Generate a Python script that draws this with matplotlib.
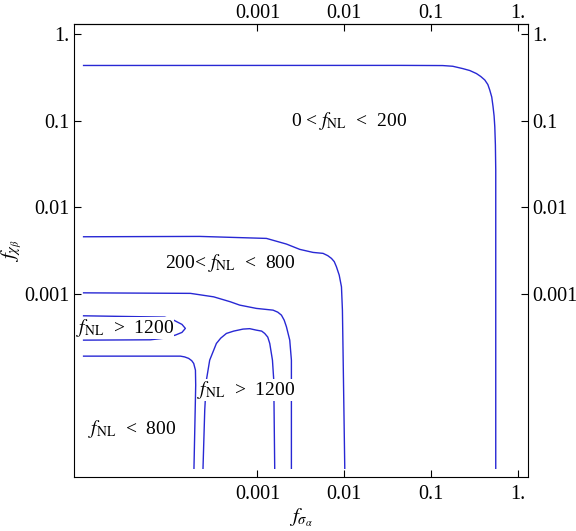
import numpy as np
import matplotlib.pyplot as plt
from matplotlib.ticker import FixedLocator, FixedFormatter, NullLocator

plt.rcParams['font.family'] = 'serif'
plt.rcParams['font.serif'] = ['Liberation Serif', 'DejaVu Serif']
plt.rcParams['mathtext.fontset'] = 'stix'

# contour lines, given as log10(f_sigma_a), log10(f_chi_b)
outer_lx = [-5.0, -1.35, -0.868, -0.753, -0.637, -0.557, -0.480, -0.430, -0.384, -0.349,
            -0.327, -0.304, -0.289, -0.277, -0.269, -0.262, -0.258, -0.258]
outer_ly = [-0.367, -0.366, -0.368, -0.376, -0.403, -0.425, -0.460, -0.494, -0.534, -0.586,
            -0.649, -0.730, -0.841, -0.948, -1.071, -1.282, -1.570, -5.0]

mid_lx = [-5.0, -3.664, -2.896, -2.666, -2.513, -2.360, -2.245, -2.191, -2.148, -2.116,
          -2.091, -2.059, -2.033, -2.022, -2.015, -1.995]
mid_ly = [-2.337, -2.333, -2.356, -2.421, -2.482, -2.517, -2.528, -2.554, -2.586, -2.623,
          -2.682, -2.778, -2.913, -3.181, -3.641, -5.0]

inner_lx = [-5.0, -3.771, -3.503, -3.311, -3.204, -3.012, -2.820, -2.766, -2.724, -2.692,
            -2.666, -2.628, -2.609, -2.609]
inner_ly = [-2.982, -2.988, -3.028, -3.085, -3.123, -3.161, -3.181, -3.204, -3.238, -3.296,
            -3.373, -3.526, -3.756, -5.0]

loop_lx = [-5.0, -4.231, -4.067, -3.944, -3.868, -3.829, -3.868, -3.963, -4.067, -5.0]
loop_ly = [-3.526, -3.522, -3.503, -3.468, -3.437, -3.391, -3.345, -3.296, -3.261, -3.246]

corner_lx = [-5.0, -3.886, -3.837, -3.791, -3.756, -3.733, -3.713, -3.710, -3.730]
corner_ly = [-3.710, -3.710, -3.719, -3.736, -3.762, -3.794, -3.871, -4.044, -5.0]

arch_lx = [-3.626, -3.606, -3.587, -3.549, -3.472, -3.422, -3.357, -3.273, -3.166, -3.089,
           -3.012, -2.951, -2.916, -2.881, -2.858, -2.827, -2.812, -2.801]
arch_ly = [-5.0, -4.331, -3.986, -3.756, -3.564, -3.503, -3.449, -3.422, -3.399, -3.394,
           -3.411, -3.422, -3.449, -3.491, -3.564, -3.756, -3.986, -5.0]

tick_vals = [1e-3, 1e-2, 1e-1, 1.0]
tick_labels = ['0.001', '0.01', '0.1', '1.']

region_text = [r'0 < $f_{\mathrm{NL}}$  <  200',
               r'200< $f_{\mathrm{NL}}$  <  800',
               r'$f_{\mathrm{NL}}$  >  1200',
               r'$f_{\mathrm{NL}}$  >  1200',
               r'$f_{\mathrm{NL}}$  <  800']
region_lx = [-1.949, -3.307, -4.527, -3.135, -4.435]
region_ly = [-1.006, -2.640, -3.388, -4.101, -4.550]

fig = plt.figure(figsize=(5.76, 5.31), dpi=100)
ax = fig.add_axes([0.1285, 0.1017, 0.7877, 0.8531])

line_color = '#2828d4'
for lx, ly in [(outer_lx, outer_ly), (mid_lx, mid_ly), (inner_lx, inner_ly),
               (loop_lx, loop_ly), (corner_lx, corner_ly), (arch_lx, arch_ly)]:
    ax.plot(10 ** np.array(lx), 10 ** np.array(ly), color=line_color, lw=1.0, zorder=2,
            solid_joinstyle='round')

for s, lx, ly in zip(region_text, region_lx, region_ly):
    ax.text(10 ** lx, 10 ** ly, s, fontsize=14, ha='center', va='center', zorder=3,
            bbox=dict(facecolor='white', edgecolor='none', pad=0))

ax.set_xscale('log')
ax.set_yscale('log')
ax.set_xlim(10 ** -5.11, 10 ** 0.11)
ax.set_ylim(10 ** -5.10, 10 ** 0.11)

for axis in [ax.xaxis, ax.yaxis]:
    axis.set_major_locator(FixedLocator(tick_vals))
    axis.set_major_formatter(FixedFormatter(tick_labels))
    axis.set_minor_locator(NullLocator())

ax.tick_params(direction='in', length=5, width=0.8, labelsize=14.5, pad=6,
               top=False, right=True, labeltop=False, labelright=True)
ax.tick_params(axis='y', pad=3)

# top axis labels sit closer to the frame than the bottom ones
secx = ax.secondary_xaxis('top')
secx.xaxis.set_major_locator(FixedLocator(tick_vals))
secx.xaxis.set_major_formatter(FixedFormatter(tick_labels))
secx.xaxis.set_minor_locator(NullLocator())
secx.tick_params(direction='in', length=5, width=0.8, labelsize=14.5, pad=1)

ax.set_xlabel(r'$f_{\sigma_\alpha}$', fontsize=15)
ax.set_ylabel(r'$f_{\chi_\beta}$', fontsize=15)
ax.xaxis.set_label_coords(0.5, -0.066)
ax.yaxis.set_label_coords(-0.11, 0.5)

fig.savefig('out.png', dpi=100)
